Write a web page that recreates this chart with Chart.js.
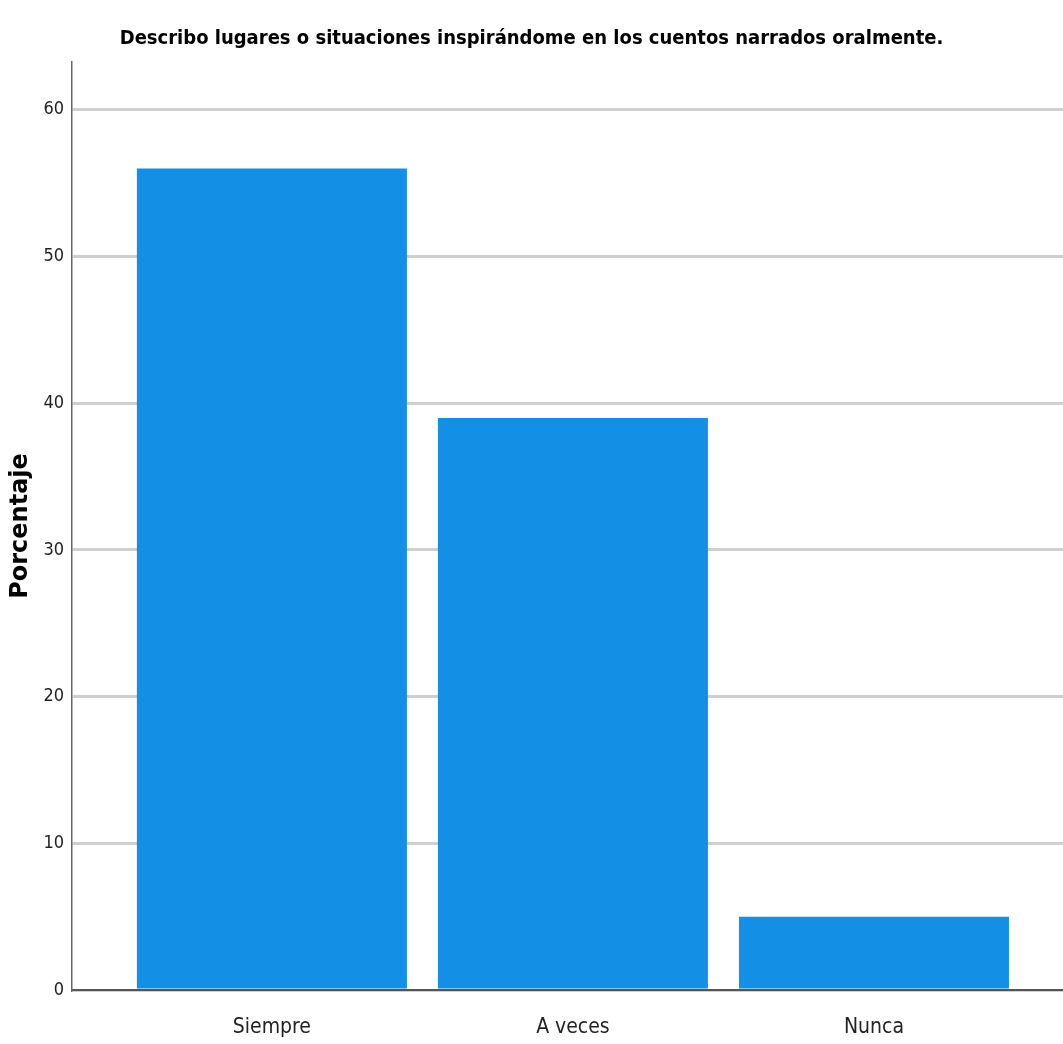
<!DOCTYPE html>
<html>
<head>
<meta charset="utf-8">
<script src="https://cdn.jsdelivr.net/npm/chart.js@4"></script>
<style>
  html, body { margin: 0; padding: 0; background: #fff; }
  #wrap { width: 1063px; height: 1044px; }
</style>
</head>
<body>
<div id="wrap"><canvas id="chart" width="1063" height="1044"></canvas></div>
<script>
const categories = ['Siempre', 'A veces', 'Nunca'];
const percentages = [56, 39, 5];
const yTicks = [0, 10, 20, 30, 40, 50, 60];

const NARROW = '"Liberation Sans Narrow", "DejaVu Sans Condensed", Arial, sans-serif';
const BAR_COLOR = '#1390e6';

const ctx = document.getElementById('chart').getContext('2d');
new Chart(ctx, {
  type: 'bar',
  data: {
    datasets: [{
      data: categories.map((c, i) => ({ x: i, y: percentages[i] })),
      backgroundColor: BAR_COLOR,
      borderWidth: 0,
      categoryPercentage: 1,
      barPercentage: 0.897
    }]
  },
  options: {
    responsive: false,
    animation: false,
    layout: { padding: 0 },
    plugins: {
      legend: { display: false },
      tooltip: { enabled: false },
      title: {
        display: true,
        text: 'Describo lugares o situaciones inspirándome en los cuentos narrados oralmente.',
        color: '#000',
        font: { family: NARROW, size: 20, weight: 'bold' },
        padding: { top: 27, bottom: 11 }
      }
    },
    scales: {
      x: {
        type: 'linear',
        offset: false,
        min: -0.664,
        max: 2.628,
        grid: { display: false, drawTicks: false },
        border: { color: '#555', width: 2 },
        afterBuildTicks: s => { s.ticks = categories.map((c, i) => ({ value: i })); },
        afterFit: s => { s.height = 54; },
        ticks: {
          color: '#222',
          padding: 25,
          maxRotation: 0,
          autoSkip: false,
          font: { family: NARROW, size: 21 },
          callback: v => categories[v]
        }
      },
      y: {
        min: 0,
        max: 63.26,
        afterBuildTicks: s => { s.ticks = yTicks.map(v => ({ value: v })); },
        afterFit: s => { s.width = 72; },
        grid: { color: '#cfcfcf', lineWidth: 3, drawTicks: false },
        border: { color: '#666', width: 1.5 },
        ticks: {
          color: '#222',
          padding: 8,
          font: { family: NARROW, size: 18 }
        },
        title: {
          display: true,
          text: 'Porcentaje',
          color: '#000',
          font: { family: '"DejaVu Sans", Verdana, sans-serif', size: 24, weight: 'bold' },
          padding: { top: 6, bottom: 0 }
        }
      }
    }
  }
});
</script>
</body>
</html>
